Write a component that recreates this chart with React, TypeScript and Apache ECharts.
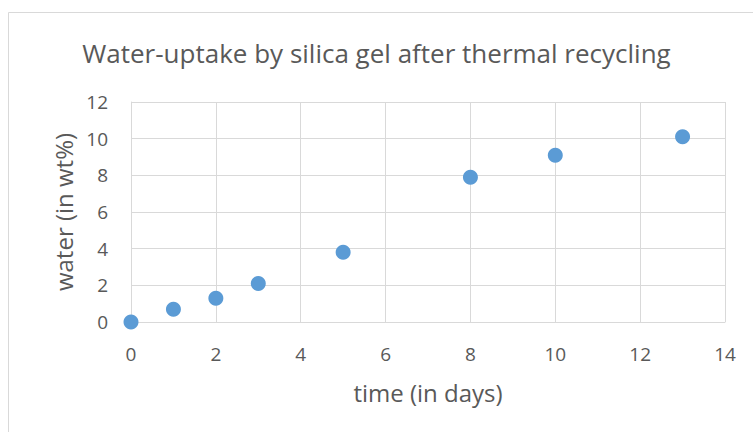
import React, { useEffect, useRef } from "react";
import * as echarts from "echarts";

const days = [0, 1, 2, 3, 5, 8, 10, 13];
const water = [0, 0.7, 1.3, 2.1, 3.8, 7.9, 9.1, 10.1];
const titleText = "Water-uptake by silica gel after thermal recycling";
const xTitle = "time (in days)";
const yTitle = "water (in wt%)";

const FONT = "'Open Sans', sans-serif";
const TEXT = "#595959";

export default function App() {
  const ref = useRef<HTMLDivElement>(null);
  useEffect(() => {
    const chart = echarts.init(ref.current!, null, { renderer: "svg" });
    chart.setOption({
      animation: false,
      backgroundColor: "#ffffff",
      title: {
        text: titleText,
        left: "center",
        top: 35,
        textStyle: { fontFamily: FONT, fontSize: 26, fontWeight: "normal", color: TEXT },
      },
      graphic: [
        {
          type: "rect",
          shape: { x: 8.5, y: 12.5, width: 800, height: 500 },
          style: { fill: "none", stroke: "#d9d9d9", lineWidth: 1 },
          silent: true,
        },
      ],
      grid: { left: 131, top: 102, right: 28, bottom: 110 },
      xAxis: {
        type: "value",
        min: 0,
        max: 14,
        interval: 2,
        name: xTitle,
        nameLocation: "middle",
        nameGap: 58,
        nameTextStyle: { fontFamily: FONT, fontSize: 24, color: TEXT },
        axisLine: { show: true, lineStyle: { color: "#d9d9d9" } },
        axisTick: { show: false },
        axisLabel: { fontFamily: FONT, fontSize: 19, color: TEXT, margin: 22 },
        splitLine: { show: true, lineStyle: { color: "#d9d9d9", width: 1 } },
      },
      yAxis: {
        type: "value",
        min: 0,
        max: 12,
        interval: 2,
        name: yTitle,
        nameLocation: "middle",
        nameGap: 56,
        nameTextStyle: { fontFamily: FONT, fontSize: 24, color: TEXT },
        axisLine: { show: true, lineStyle: { color: "#d9d9d9" } },
        axisTick: { show: false },
        axisLabel: { fontFamily: FONT, fontSize: 19, color: TEXT, margin: 23 },
        splitLine: { show: true, lineStyle: { color: "#d9d9d9", width: 1 } },
      },
      series: [
        {
          type: "scatter",
          data: days.map((d, i) => [d, water[i]]),
          symbol: "circle",
          symbolSize: 15,
          itemStyle: { color: "#5b9bd5", opacity: 1 },
        },
      ],
    });
    return () => chart.dispose();
  }, []);
  return (
    <div
      ref={ref}
      style={{ position: "absolute", left: 0, top: 0, width: 753, height: 432 }}
    />
  );
}
